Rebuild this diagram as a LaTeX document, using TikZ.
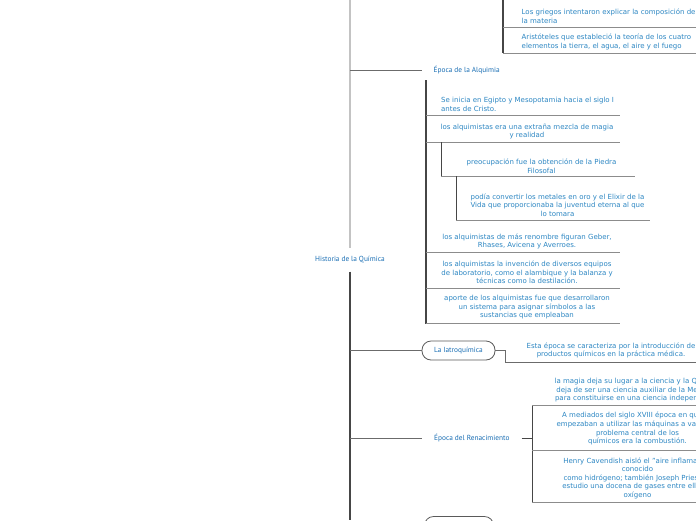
\documentclass[tikz,border=0pt]{standalone}
\usepackage{fontspec}
\setmainfont{DejaVu Sans}
\newfontfamily\topicfam{PT Sans}
\definecolor{leafblue}{RGB}{45,135,195}
\definecolor{topicblue}{RGB}{25,110,180}
\definecolor{lightline}{RGB}{195,195,195}
\definecolor{darkline}{RGB}{70,70,70}
\definecolor{underline}{RGB}{140,140,140}
\definecolor{pillgray}{RGB}{90,90,90}
\tikzset{
  leaf/.style={font=\fontsize{7}{8.6}\selectfont, text=leafblue, align=center, inner sep=0pt},
  topic/.style={font=\topicfam\fontsize{7.35}{8}\selectfont, text=topicblue, inner ysep=0pt, inner xsep=11.5pt},
  pill/.style={draw=pillgray, line width=0.8pt, rounded corners=9pt, minimum width=73pt, minimum height=19pt, font=\topicfam\fontsize{7.35}{8}\selectfont, text=topicblue, inner sep=0pt},
  mainlight/.style={draw=lightline, line width=1.3pt},
  maindark/.style={draw=darkline, line width=1.1pt},
  branch/.style={draw=darkline!80, line width=0.9pt},
  stem/.style={draw=darkline, line width=1.2pt},
  uline/.style={draw=underline, line width=1pt}
}
\begin{document}
\begin{tikzpicture}[x=1pt,y=-1pt]
\useasboundingbox (0,0) rectangle (696,520);
\fill[white] (0,0) rectangle (696,520);
\clip (0,0) rectangle (696,520);

% root
\node[topic, minimum height=23pt, inner xsep=0pt] (root) at (350,260) {Historia de la Química};
\coordinate (rtop) at (350,0);
\coordinate (rbot) at (350,520);
\draw[mainlight] (rtop) -- (root.north);
\draw[maindark] (root.south) -- (rbot);

% previous section (top)
\coordinate (gtop) at (503,0);
\coordinate (gbot) at (503,53);
\node[leaf, anchor=west, align=left] (g1) at (521.5,16) {Los griegos intentaron explicar la composición de\\la materia};
\node[leaf, anchor=west, align=left] (g2) at (521.5,42) {Aristóteles que estableció la teoría de los cuatro\\elementos la tierra, el agua, el aire y el fuego};
\draw[stem] (gtop) -- (gbot);
\coordinate (g1a) at (503,27); \coordinate (g1b) at (700,27);
\coordinate (g2b) at (700,53);
\draw[uline] (g1a) -- (g1b);
\draw[uline] (gbot) -- (g2b);

% Epoca de la Alquimia
\coordinate (bA) at (350,70);
\node[topic, anchor=west] (alq) at (422,70) {Época de la Alquimia};
\draw[branch] (bA) -- (alq.west);
\coordinate (vA0) at (426,80);
\coordinate (vA1) at (426,323.5);
\draw[stem] (vA0) -- (vA1);

\node[leaf, anchor=west, align=left] (a1) at (441,104.5) {Se inicia en Egipto y Mesopotamia hacia el siglo I\\antes de Cristo.};
\draw[uline] (426,115) -- (620,115);

\node[leaf] (a2) at (527,131.5) {los alquimistas era una extraña mezcla de magia\\y realidad};
\draw[uline] (426,142.3) -- (620,142.3);
\draw[stem, line width=1pt] (441,142.3) -- (441,176);

\node[leaf] (a2a) at (541.5,166.5) {preocupación fue la obtención de la Piedra\\Filosofal};
\draw[uline] (441,176) -- (635,176);
\draw[stem, line width=1pt] (456,176) -- (456,220.5);

\node[leaf] (a2a1) at (557.5,205) {podía convertir los metales en oro y el Elixir de la\\Vida que proporcionaba la juventud eterna al que\\lo tomara};
\draw[uline] (456,220.5) -- (650,220.5);

\node[leaf] (a3) at (527,241.5) {los alquimistas de más renombre figuran Geber,\\Rhases, Avicena y Averroes.};
\draw[uline] (426,252.3) -- (620,252.3);

\node[leaf] (a4) at (527,272.5) {los alquimistas la invención de diversos equipos\\de laboratorio, como el alambique y la balanza y\\técnicas como la destilación.};
\draw[uline] (426,288) -- (620,288);

\node[leaf] (a5) at (527,307.3) {aporte de los alquimistas fue que desarrollaron\\un sistema para asignar símbolos a las\\sustancias que empleaban};
\draw[uline] (426,323.5) -- (620,323.5);

% La Iatroquimica
\coordinate (bB) at (350,350.5);
\node[pill] (iatro) at (458.5,350.5) {La Iatroquímica};
\draw[branch] (bB) -- (iatro.west);
\coordinate (bB1) at (505,350.5);
\coordinate (bB2) at (505,362);
\coordinate (bB3) at (700,362);
\draw[branch] (iatro.east) -- (bB1) -- (bB2) -- (bB3);
\node[leaf] (b1) at (611,350.5) {Esta época se caracteriza por la introducción de\\productos químicos en la práctica médica.};

% Epoca del Renacimiento
\coordinate (bC) at (350,438);
\node[topic, anchor=west, inner xsep=12pt] (ren) at (422,438) {Época del Renacimiento};
\draw[branch] (bC) -- (ren.west);
\coordinate (cJ) at (532,438);
\draw[stem, line width=1pt] (ren.east) -- (cJ);
\draw[stem, line width=1pt] (532,405) -- (532,502);
\draw[uline] (532,405) -- (700,405);
\draw[uline] (532,450) -- (700,450);
\draw[uline] (532,502) -- (700,502);
\node[leaf] (c1) at (637.5,390) {la magia deja su lugar a la ciencia y la Química\\deja de ser una ciencia auxiliar de la Medicina\\para constituirse en una ciencia independiente};
\node[leaf] (c2) at (637.5,428.7) {A mediados del siglo XVIII época en que se\\empezaban a utilizar las máquinas a vapor, el\\problema central de los\\químicos era la combustión.};
\node[leaf] (c3) at (637.5,478.3) {Henry Cavendish aisló el "aire inflamable"\\conocido\\como hidrógeno; también Joseph Priestley\\estudio una docena de gases entre ellos el\\oxígeno};

% next topic (only its top is visible)
\node[pill, minimum width=69pt, minimum height=20pt] (next) at (459,526.5) {};
\end{tikzpicture}
\end{document}
